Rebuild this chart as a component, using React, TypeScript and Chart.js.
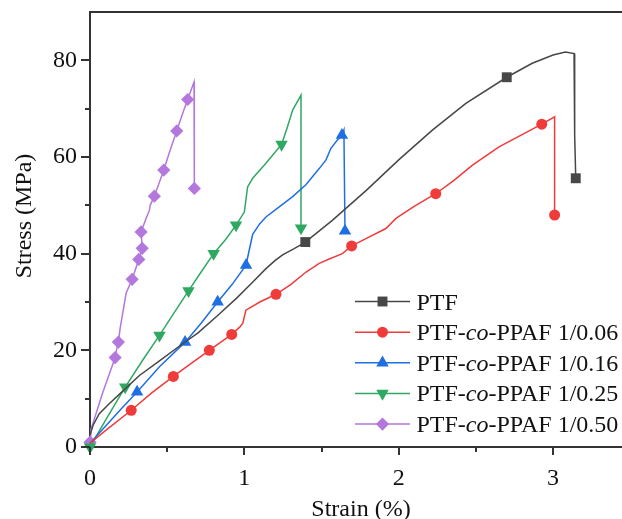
import React, { useEffect, useRef } from 'react';
import { Chart, registerables } from 'chart.js';

Chart.register(...registerables);

const FONT = "'Liberation Serif', 'Times New Roman', serif";
const AXIS_COLOR = '#333333';
const TEXT_COLOR = '#111111';

const seriesLabels = [
  'PTF',
  'PTF-co-PPAF 1/0.06',
  'PTF-co-PPAF 1/0.16',
  'PTF-co-PPAF 1/0.25',
  'PTF-co-PPAF 1/0.50',
];
const seriesColors = ['#474747', '#f03b3b', '#1f6fe3', '#2fa862', '#b377dd'];
const seriesPointStyles = ['rect', 'circle', 'triangle', 'triangle', 'rectRot'];
const seriesPointRotation = [0, 0, 0, 180, 0];
const seriesPointRadius = [7, 5.5, 7.2, 7.2, 6.6];

const ptfStrain = [0, 0.02, 0.06, 0.126, 0.2, 0.32, 0.45, 0.58, 0.7, 0.827, 0.95, 1.05, 1.14, 1.2, 1.25, 1.32, 1.395, 1.57, 1.79, 2.0, 2.22, 2.435, 2.7, 2.865, 3.0, 3.08, 3.136, 3.14, 3.147];
const ptfStress = [2.5, 4.5, 6.9, 9.0, 11.2, 14.8, 17.8, 20.9, 23.6, 27.2, 30.8, 34.0, 36.9, 38.6, 39.8, 41.0, 42.4, 46.9, 53.1, 59.4, 65.6, 71.1, 76.5, 79.4, 81.1, 81.7, 81.4, 64.5, 55.6];
const ptfMarkers = [16, 22, 28];

const s006Strain = [0, 0.1, 0.267, 0.4, 0.54, 0.66, 0.773, 0.918, 0.97, 0.99, 1.01, 1.1, 1.205, 1.3, 1.4, 1.485, 1.55, 1.635, 1.695, 1.788, 1.917, 1.982, 2.1, 2.24, 2.36, 2.478, 2.65, 2.927, 3.01, 3.01];
const s006Stress = [0.8, 3.4, 7.6, 11.2, 14.6, 17.4, 20.0, 23.3, 24.8, 25.6, 28.3, 30.0, 31.6, 33.6, 36.2, 38.0, 38.9, 40.0, 41.6, 43.1, 45.2, 47.3, 49.8, 52.4, 55.2, 58.3, 62.1, 66.8, 68.3, 48.0];
const s006Markers = [2, 4, 6, 7, 12, 18, 23, 27, 29];

const s016Strain = [0, 0.1, 0.2, 0.305, 0.45, 0.616, 0.72, 0.827, 0.92, 1.011, 1.03, 1.054, 1.1, 1.14, 1.23, 1.313, 1.4, 1.485, 1.529, 1.561, 1.6, 1.632, 1.645, 1.652];
const s016Stress = [0.8, 4.3, 7.8, 11.4, 16.6, 21.7, 25.6, 30.0, 33.6, 37.6, 40.5, 44.0, 46.2, 47.6, 49.8, 51.8, 54.3, 57.6, 59.4, 61.8, 63.4, 64.5, 65.6, 44.7];
const s016Markers = [3, 5, 7, 9, 21, 23];

const s025Strain = [0, 0.1, 0.228, 0.34, 0.45, 0.55, 0.638, 0.72, 0.801, 0.88, 0.946, 1.0, 1.021, 1.054, 1.14, 1.241, 1.28, 1.313, 1.367, 1.367];
const s025Stress = [0, 5.5, 12.4, 17.9, 23.1, 28.0, 32.3, 36.2, 40.0, 43.0, 45.9, 48.6, 53.8, 55.6, 58.7, 62.6, 66.3, 69.7, 72.8, 45.3];
const s025Markers = [0, 2, 4, 6, 8, 10, 15, 19];

const s050Strain = [0, 0.005, 0.08, 0.163, 0.175, 0.184, 0.195, 0.234, 0.273, 0.316, 0.338, 0.331, 0.36, 0.385, 0.39, 0.417, 0.478, 0.52, 0.562, 0.6, 0.633, 0.674, 0.676];
const s050Stress = [1.0, 3.5, 11.0, 18.5, 20.5, 21.7, 24.5, 31.8, 34.7, 38.8, 41.1, 44.5, 47.0, 49.0, 50.0, 51.9, 57.3, 61.5, 65.4, 69.0, 71.9, 75.5, 53.5];
const s050Markers = [0, 3, 5, 8, 9, 10, 11, 15, 16, 18, 20, 22];

const allStrain = [ptfStrain, s006Strain, s016Strain, s025Strain, s050Strain];
const allStress = [ptfStress, s006Stress, s016Stress, s025Stress, s050Stress];
const allMarkers = [ptfMarkers, s006Markers, s016Markers, s025Markers, s050Markers];

const xMajorTicks = [0, 1, 2, 3];
const xMinorTicks = [0.5, 1.5, 2.5];
const yMajorTicks = [0, 20, 40, 60, 80];
const yMinorTicks = [10, 30, 50, 70];
const X_MIN = 0;
const X_MAX = 3.4;
const Y_MIN = 0;
const Y_MAX = 90;

const xTitle = 'Strain (%)';
const yTitle = 'Stress (MPa)';

function drawMarker(ctx: CanvasRenderingContext2D, style: string, rot: number, x: number, y: number, r: number) {
  ctx.beginPath();
  if (style === 'rect') {
    const s = Math.SQRT1_2 * r;
    ctx.rect(x - s, y - s, 2 * s, 2 * s);
  } else if (style === 'circle') {
    ctx.arc(x, y, r, 0, Math.PI * 2);
  } else if (style === 'triangle') {
    let a = (rot * Math.PI) / 180;
    ctx.moveTo(x + Math.sin(a) * r, y - Math.cos(a) * r);
    a += (2 * Math.PI) / 3;
    ctx.lineTo(x + Math.sin(a) * r, y - Math.cos(a) * r);
    a += (2 * Math.PI) / 3;
    ctx.lineTo(x + Math.sin(a) * r, y - Math.cos(a) * r);
    ctx.closePath();
  } else {
    ctx.moveTo(x, y - r);
    ctx.lineTo(x + r, y);
    ctx.lineTo(x, y + r);
    ctx.lineTo(x - r, y);
    ctx.closePath();
  }
  ctx.fill();
}

const decorPlugin = {
  id: 'decor',
  afterDraw(chart: any) {
    const { ctx, chartArea } = chart;
    const xs = chart.scales.x;
    const ys = chart.scales.y;
    ctx.save();
    ctx.strokeStyle = AXIS_COLOR;
    ctx.lineWidth = 2;
    ctx.beginPath();
    ctx.moveTo(chartArea.left - 1, chartArea.top);
    ctx.lineTo(chart.width, chartArea.top);
    ctx.stroke();
    ctx.beginPath();
    ctx.moveTo(chartArea.right - 1, chartArea.bottom);
    ctx.lineTo(chart.width, chartArea.bottom);
    ctx.stroke();

    const bottom = chartArea.bottom;
    const left = chartArea.left;
    const tick = (x1: number, y1: number, x2: number, y2: number) => {
      ctx.beginPath();
      ctx.moveTo(x1, y1);
      ctx.lineTo(x2, y2);
      ctx.stroke();
    };
    for (const v of xMajorTicks) {
      const p = Math.round(xs.getPixelForValue(v));
      tick(p, bottom, p, bottom + 8);
    }
    for (const v of xMinorTicks) {
      const p = Math.round(xs.getPixelForValue(v));
      tick(p, bottom, p, bottom + 5);
    }
    for (const v of yMajorTicks) {
      const p = Math.round(ys.getPixelForValue(v));
      tick(left, p, left - 9, p);
    }
    for (const v of yMinorTicks) {
      const p = Math.round(ys.getPixelForValue(v));
      tick(left, p, left - 5, p);
    }

    // axis titles
    ctx.fillStyle = TEXT_COLOR;
    ctx.font = `24px ${FONT}`;
    ctx.textAlign = 'center';
    ctx.textBaseline = 'alphabetic';
    ctx.fillText(xTitle, 361, 516);
    ctx.save();
    ctx.translate(30.5, 216);
    ctx.rotate(-Math.PI / 2);
    ctx.fillText(yTitle, 0, 0);
    ctx.restore();

    // legend
    const rowY0 = 301.5;
    const rowGap = 30.65;
    ctx.textAlign = 'left';
    seriesLabels.forEach((label, i) => {
      const cy = rowY0 + i * rowGap;
      ctx.strokeStyle = seriesColors[i];
      ctx.lineWidth = 1.5;
      ctx.beginPath();
      ctx.moveTo(355, cy);
      ctx.lineTo(410, cy);
      ctx.stroke();
      ctx.fillStyle = seriesColors[i];
      drawMarker(ctx, seriesPointStyles[i], seriesPointRotation[i], 382.5, cy, seriesPointRadius[i]);
      ctx.fillStyle = TEXT_COLOR;
      let x = 416.5;
      const base = cy + 8;
      const parts = label.split('-co-');
      if (parts.length === 2) {
        const segs: [string, string][] = [
          [parts[0] + '-', 'normal'],
          ['co', 'italic'],
          ['-' + parts[1], 'normal'],
        ];
        for (const [t, st] of segs) {
          ctx.font = `${st === 'italic' ? 'italic ' : ''}24px ${FONT}`;
          ctx.fillText(t, x, base);
          x += ctx.measureText(t).width;
        }
      } else {
        ctx.font = `24px ${FONT}`;
        ctx.fillText(label, x, base);
      }
    });
    ctx.restore();
  },
};

export default function App() {
  const ref = useRef<HTMLCanvasElement | null>(null);
  useEffect(() => {
    if (!ref.current) return;
    const datasets = seriesLabels.map((label, i) => {
      const marks = allMarkers[i];
      return {
        label,
        data: allStrain[i].map((x, j) => ({ x, y: allStress[i][j] })),
        borderColor: seriesColors[i],
        backgroundColor: seriesColors[i],
        borderWidth: 1.5,
        pointStyle: seriesPointStyles[i],
        rotation: seriesPointRotation[i],
        pointRadius: (c: any) => (marks.includes(c.dataIndex) ? seriesPointRadius[i] : 0),
        pointBorderWidth: 0,
        pointHoverRadius: 0,
        showLine: true,
        tension: 0,
        clip: false as any,
      };
    });
    const chart = new Chart(ref.current, {
      type: 'scatter',
      data: { datasets: datasets as any },
      options: {
        animation: false,
        responsive: true,
        maintainAspectRatio: false,
        events: [],
        layout: { padding: { top: 12, right: 0, left: 0, bottom: 0 } },
        plugins: { legend: { display: false }, tooltip: { enabled: false } },
        scales: {
          x: {
            type: 'linear',
            min: X_MIN,
            max: X_MAX,
            afterFit: (s: any) => {
              s.height = 72;
              s.paddingLeft = 0;
              s.paddingRight = 0;
              s.paddingTop = 0;
              s.paddingBottom = 0;
            },
            afterBuildTicks: (s: any) => {
              s.ticks = xMajorTicks.map((v) => ({ value: v }));
            },
            ticks: {
              padding: 17,
              color: TEXT_COLOR,
              font: { family: FONT, size: 24 },
              maxRotation: 0,
              callback: (v: any) => String(v),
            },
            grid: { display: false, drawTicks: false },
            border: { display: true, color: AXIS_COLOR, width: 2 },
          },
          y: {
            type: 'linear',
            min: Y_MIN,
            max: Y_MAX,
            afterFit: (s: any) => {
              s.width = 90;
              s.paddingLeft = 0;
              s.paddingRight = 0;
              s.paddingTop = 0;
              s.paddingBottom = 0;
            },
            afterBuildTicks: (s: any) => {
              s.ticks = yMajorTicks.map((v) => ({ value: v }));
            },
            ticks: {
              padding: 13,
              color: TEXT_COLOR,
              font: { family: FONT, size: 24 },
              callback: (v: any) => String(v),
            },
            grid: { display: false, drawTicks: false },
            border: { display: true, color: AXIS_COLOR, width: 2 },
          },
        },
      },
      plugins: [decorPlugin],
    });
    return () => chart.destroy();
  }, []);
  return (
    <div style={{ position: 'absolute', left: 0, top: 0, width: 622, height: 519, background: '#fff', overflow: 'hidden' }}>
      <canvas ref={ref} style={{ display: 'block' }} />
    </div>
  );
}
